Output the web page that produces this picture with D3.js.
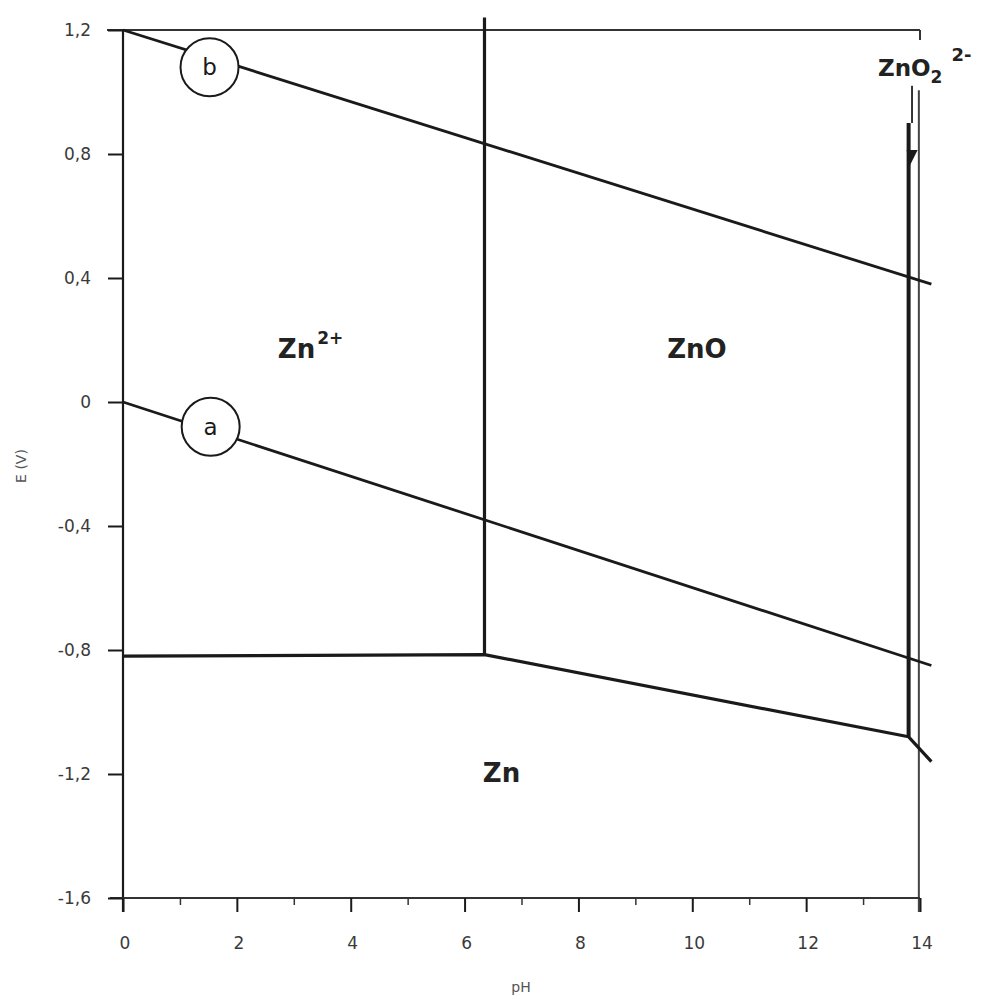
<!DOCTYPE html>
<html>
<head>
<meta charset="utf-8">
<script src="https://cdn.jsdelivr.net/npm/d3@7"></script>
<style>
  html, body { margin: 0; padding: 0; background: #fff; }
  svg { display: block; }
  text { font-family: "DejaVu Sans", "Open Sans", sans-serif; }
</style>
</head>
<body>
<svg id="chart" width="985" height="999"></svg>
<script>
// ---- Data ----
const xTickValues = [0, 2, 4, 6, 8, 10, 12, 14];
const xTickLabels = ["0", "2", "4", "6", "8", "10", "12", "14"];
const xMinorTicks = [1, 3, 5, 7, 9, 11, 13];
const yTickValues = [1.2, 0.8, 0.4, 0, -0.4, -0.8, -1.2, -1.6];
const yTickLabels = ["1,2", "0,8", "0,4", "0", "-0,4", "-0,8", "-1,2", "-1,6"];

// water stability lines
const lineB_pH = [0, 14.2];
const lineB_E  = [1.2, 0.38];
const lineA_pH = [0, 14.2];
const lineA_E  = [0, -0.85];

// Zn / Zn2+ , Zn / ZnO , Zn / ZnO2 2- boundary
const znBound_pH = [0, 6.35, 13.8, 14.2];
const znBound_E  = [-0.82, -0.815, -1.08, -1.16];

// Zn2+ / ZnO vertical boundary
const znoLeft_pH = [6.35, 6.35];
const znoLeft_E  = [-0.815, 1.24];

// ZnO / ZnO2 2- vertical boundary
const znoRight_pH = [13.8, 13.8];
const znoRight_E  = [-1.08, 0.90];
const znoRightThin_pH = [13.86, 13.86];
const znoRightThin_E  = [0.90, 1.02];

// circled labels
const circleLabels = ["b", "a"];
const circle_pH = [1.52, 1.54];
const circle_E  = [1.08, -0.08];

// region labels
const regionNames = ["Zn", "ZnO", "Zn"];
const regionSup   = ["2+", "", ""];
const region_pH = [2.72, 9.56, 6.32];
const region_E  = [0.142, 0.142, -1.226];

// ---- Chart ----
const svg = d3.select("#chart");
const x = d3.scaleLinear().domain([0, 14]).range([123, 920]);
const y = d3.scaleLinear().domain([-1.6, 1.2]).range([898, 30]);
const ink = "#1a1a1a";
const grey = "#3a3a3a";

const zip = (a, b) => a.map((v, i) => [v, b[i]]);
const line = d3.line().x(d => x(d[0])).y(d => y(d[1]));

// frame: left axis, top line, right border
svg.append("line").attr("x1", x(0)).attr("x2", x(0)).attr("y1", y(1.2)).attr("y2", y(-1.6) + 14)
  .attr("stroke", ink).attr("stroke-width", 2.2);
svg.append("line").attr("x1", x(0) - 16).attr("x2", x(14)).attr("y1", y(1.2)).attr("y2", y(1.2))
  .attr("stroke", "#333").attr("stroke-width", 2);
svg.append("line").attr("x1", x(14)).attr("x2", x(14)).attr("y1", y(1.2)).attr("y2", y(1.168))
  .attr("stroke", "#333").attr("stroke-width", 2);
svg.append("line").attr("x1", x(13.98)).attr("x2", x(13.98)).attr("y1", y(1.006)).attr("y2", y(-1.6) + 14)
  .attr("stroke", "#444").attr("stroke-width", 2);
// bottom axis line
svg.append("line").attr("x1", x(0) - 13).attr("x2", x(14)).attr("y1", y(-1.6)).attr("y2", y(-1.6))
  .attr("stroke", "#333").attr("stroke-width", 2);

// y axis ticks
const yAxis = d3.axisLeft(y).tickValues(yTickValues).tickSize(15).tickFormat("");
const gy = svg.append("g").attr("transform", `translate(${x(0)},0)`).call(yAxis);
gy.select(".domain").remove();
gy.selectAll(".tick line").attr("stroke", ink).attr("stroke-width", 2);
svg.append("g").selectAll("text").data(yTickValues).join("text")
  .attr("x", 91).attr("y", d => y(d)).attr("dy", "0.35em")
  .attr("text-anchor", "end").attr("font-size", 17).attr("fill", grey)
  .text((d, i) => yTickLabels[i]);

// x axis ticks
const xAxis = d3.axisBottom(x).tickValues(xTickValues).tickSize(14).tickFormat("");
const gx = svg.append("g").attr("transform", `translate(0,${y(-1.6)})`).call(xAxis);
gx.select(".domain").remove();
gx.selectAll(".tick line").attr("stroke", ink).attr("stroke-width", 2);
const xMinor = d3.axisBottom(x).tickValues(xMinorTicks).tickSize(7).tickFormat("");
const gxm = svg.append("g").attr("transform", `translate(0,${y(-1.6)})`).call(xMinor);
gxm.select(".domain").remove();
gxm.selectAll(".tick line").attr("stroke", "#333").attr("stroke-width", 1.5);
svg.append("g").selectAll("text").data(xTickValues).join("text")
  .attr("x", d => x(d) + 2).attr("y", 949)
  .attr("text-anchor", "middle").attr("font-size", 17).attr("fill", grey)
  .text((d, i) => xTickLabels[i]);

// axis titles
svg.append("text").attr("x", 521).attr("y", 992).attr("text-anchor", "middle")
  .attr("font-size", 14).attr("fill", "#555").text("pH");
svg.append("text").attr("transform", "translate(26,466) rotate(-90)").attr("text-anchor", "middle")
  .attr("font-size", 14).attr("fill", "#555").text("E (V)");

// boundaries
svg.append("path").attr("d", line(zip(lineB_pH, lineB_E))).attr("fill", "none")
  .attr("stroke", ink).attr("stroke-width", 2.8);
svg.append("path").attr("d", line(zip(lineA_pH, lineA_E))).attr("fill", "none")
  .attr("stroke", ink).attr("stroke-width", 2.8);
svg.append("path").attr("d", line(zip(znBound_pH, znBound_E))).attr("fill", "none")
  .attr("stroke", ink).attr("stroke-width", 3.2).attr("stroke-linejoin", "round");
svg.append("path").attr("d", line(zip(znoLeft_pH, znoLeft_E))).attr("fill", "none")
  .attr("stroke", ink).attr("stroke-width", 3.2);
svg.append("path").attr("d", line(zip(znoRight_pH, znoRight_E))).attr("fill", "none")
  .attr("stroke", ink).attr("stroke-width", 4);
svg.append("path").attr("d", line(zip(znoRightThin_pH, znoRightThin_E))).attr("fill", "none")
  .attr("stroke", "#333").attr("stroke-width", 2);

// arrow
const ax = x(13.8), ay = y(0.79);
svg.append("path").attr("d", `M${ax - 2},${ay - 7} L${ax + 9},${ay - 7} L${ax + 1},${ay + 9} Z`)
  .attr("fill", ink);

// circled labels
const cg = svg.append("g").selectAll("g").data(circleLabels).join("g")
  .attr("transform", (d, i) => `translate(${x(circle_pH[i])},${y(circle_E[i])})`);
cg.append("circle").attr("r", 29).attr("fill", "#fff").attr("stroke", ink).attr("stroke-width", 2);
cg.append("text").attr("text-anchor", "middle").attr("dy", "0.36em").attr("font-size", 23)
  .attr("fill", ink).text(d => d);

// region labels
const rg = svg.append("g").selectAll("text").data(regionNames).join("text")
  .attr("x", (d, i) => x(region_pH[i])).attr("y", (d, i) => y(region_E[i]))
  .attr("text-anchor", "start").attr("font-size", 26).attr("font-weight", "bold").attr("fill", "#222");
rg.append("tspan").text(d => d);
rg.append("tspan").attr("dy", -14).attr("dx", 2).attr("font-size", 17).text((d, i) => regionSup[i]);

// ZnO2 2- label
const t = svg.append("text").attr("x", 878).attr("y", 76).attr("font-size", 23)
  .attr("font-weight", "bold").attr("fill", "#222");
t.append("tspan").text("ZnO");
t.append("tspan").attr("dy", 7).attr("font-size", 17).text("2");
t.append("tspan").attr("dy", -22).attr("dx", 9).attr("font-size", 18).text("2-");
</script>
</body>
</html>
